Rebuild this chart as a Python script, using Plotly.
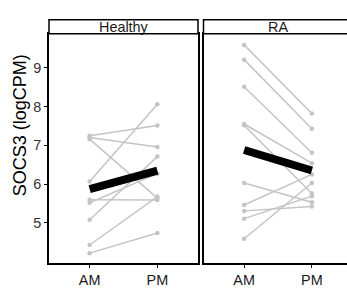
import plotly.graph_objects as go

W, H = 347, 288

times = ["AM", "PM"]
panels = ["Healthy", "RA"]

healthy_am = [7.25, 7.20, 7.16, 6.07, 5.60, 5.52, 5.08, 4.43, 4.22]
healthy_pm = [7.51, 6.96, 5.64, 8.06, 5.59, 6.27, 6.71, 5.68, 4.74]
ra_am = [9.59, 9.21, 8.51, 7.55, 7.52, 6.03, 5.46, 5.31, 5.11, 4.59]
ra_pm = [7.82, 7.43, 6.81, 6.54, 5.76, 5.53, 6.25, 5.42, 5.69, 6.03]
healthy_mean = [5.87, 6.35]
ra_mean = [6.88, 6.35]
y_ticks = [5, 6, 7, 8, 9]

grey = "#C4C4C4"
FONT = "Arial, Liberation Sans, sans-serif"

def px_x(p):
    return p / W

def px_y(p):
    return 1 - p / H

L0, L1 = px_x(49), px_x(198)
R0, R1 = px_x(203.5), 1.0
YB, YT = px_y(266), px_y(34)
ST = px_y(20)

fig = go.Figure()

def add_panel(am, pm, mean, xa, ya):
    for a, p in zip(am, pm):
        fig.add_trace(go.Scatter(x=[1, 2], y=[a, p], mode="lines+markers",
                                 line=dict(color=grey, width=1.5),
                                 marker=dict(color=grey, size=4.5),
                                 xaxis=xa, yaxis=ya, showlegend=False,
                                 hoverinfo="skip"))
    fig.add_trace(go.Scatter(x=[1, 2], y=mean, mode="lines",
                             line=dict(color="black", width=8),
                             xaxis=xa, yaxis=ya, showlegend=False,
                             hoverinfo="skip"))

add_panel(healthy_am, healthy_pm, healthy_mean, "x", "y")
add_panel(ra_am, ra_pm, ra_mean, "x2", "y2")

yrange = [3.96, 9.88]
xcommon = dict(tickmode="array", tickvals=[1, 2], ticktext=times,
               ticks="outside", ticklen=3, tickcolor="black", tickwidth=1,
               showgrid=False, zeroline=False, showline=True, linecolor="black",
               linewidth=1.5, mirror=True,
               tickfont=dict(family=FONT, size=14.4, color="#1a1a1a"))

fig.update_layout(
    width=W, height=H,
    margin=dict(l=0, r=0, t=0, b=0),
    paper_bgcolor="white", plot_bgcolor="white",
    xaxis=dict(domain=[L0, L1], range=[0.4, 2.6], **xcommon),
    xaxis2=dict(domain=[R0, R1], range=[0.4, 0.4 + (347 - 203.5) / (149 / 2.2)],
                anchor="y2", **xcommon),
    yaxis=dict(domain=[YB, YT], range=yrange, tickvals=y_ticks,
               ticks="outside", ticklen=3, tickcolor="black", tickwidth=1,
               showgrid=False, zeroline=False, showline=True, linecolor="black",
               linewidth=1.5, mirror=True,
               tickfont=dict(family=FONT, size=14.4, color="#333333")),
    yaxis2=dict(domain=[YB, YT], range=yrange, anchor="x2", showticklabels=False,
                ticks="", showgrid=False, zeroline=False, showline=True,
                linecolor="black", linewidth=1.5, mirror=False),
)

# strips
for (x0, x1), name in zip([(L0, L1), (R0, 1.05)], panels):
    fig.add_shape(type="rect", xref="paper", yref="paper", x0=x0, x1=x1,
                  y0=YT, y1=ST, line=dict(color="black", width=1.5),
                  fillcolor="white", layer="above")
    fig.add_annotation(x=(x0 + min(x1, L1 - L0 + x0)) / 2, y=(YT + ST) / 2,
                       xref="paper", yref="paper", text=name, showarrow=False,
                       font=dict(family=FONT, size=14.4, color="#1a1a1a"),
                       xanchor="center", yanchor="middle")

fig.add_annotation(x=px_x(19.5), y=px_y(127), xref="paper", yref="paper",
                   text="SOCS3 (logCPM)", textangle=-90, showarrow=False,
                   font=dict(family=FONT, size=18, color="black"),
                   xanchor="center", yanchor="middle")

fig.write_html("out.html", config={"displayModeBar": False},
               post_script="document.body.style.margin='0';document.body.style.overflow='hidden';")
